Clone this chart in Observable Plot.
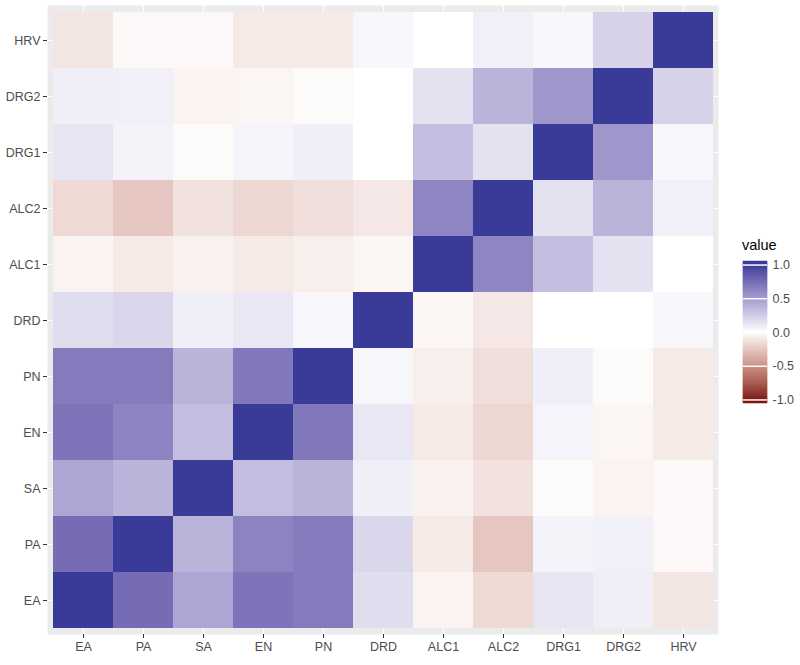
<!DOCTYPE html>
<html>
<head>
<meta charset="utf-8">
<script src="https://cdn.jsdelivr.net/npm/d3@7"></script>
<script src="https://cdn.jsdelivr.net/npm/@observablehq/plot@0.6"></script>
<style>
  html, body { margin: 0; padding: 0; background: #fff; }
  #wrap { position: relative; width: 800px; height: 665px; font-family: "Liberation Sans", Arial, sans-serif; }
  #legend { position: absolute; left: 735px; top: 236px; }
  #legtitle { position: absolute; left: 742px; top: 237px; font-size: 14.5px; color: #000; }
</style>
</head>
<body>
<div id="wrap">
  <div id="main"></div>
  <div id="legtitle">value</div>
  <div id="legend"></div>
</div>
<script>
const vars = ["EA","PA","SA","EN","PN","DRD","ALC1","ALC2","DRG1","DRG2","HRV"];
const rowEA   = [1, 0.72, 0.43, 0.68, 0.64, 0.16, -0.05, -0.16, 0.12, 0.08, -0.11];
const rowPA   = [0.72, 1, 0.36, 0.60, 0.64, 0.19, -0.09, -0.24, 0.06, 0.07, -0.03];
const rowSA   = [0.43, 0.36, 1, 0.31, 0.36, 0.08, -0.06, -0.12, -0.02, -0.05, -0.03];
const rowEN   = [0.68, 0.60, 0.31, 1, 0.66, 0.11, -0.09, -0.17, 0.05, -0.04, -0.09];
const rowPN   = [0.64, 0.64, 0.36, 0.66, 1, 0.04, -0.07, -0.14, 0.08, -0.02, -0.09];
const rowDRD  = [0.16, 0.19, 0.08, 0.11, 0.04, 1, -0.04, -0.10, 0.00, 0.00, 0.04];
const rowALC1 = [-0.05, -0.09, -0.06, -0.09, -0.07, -0.04, 1, 0.59, 0.31, 0.14, 0.00];
const rowALC2 = [-0.16, -0.24, -0.12, -0.17, -0.14, -0.10, 0.59, 1, 0.14, 0.36, 0.07];
const rowDRG1 = [0.12, 0.06, -0.02, 0.05, 0.08, 0.00, 0.31, 0.14, 1, 0.50, 0.04];
const rowDRG2 = [0.08, 0.07, -0.05, -0.04, -0.02, 0.00, 0.14, 0.36, 0.50, 1, 0.21];
const rowHRV  = [-0.11, -0.03, -0.03, -0.09, -0.09, 0.04, 0.00, 0.07, 0.04, 0.21, 1];
const legendTicks = [-1, -0.5, 0, 0.5, 1];

const rows = [rowEA,rowPA,rowSA,rowEN,rowPN,rowDRD,rowALC1,rowALC2,rowDRG1,rowDRG2,rowHRV];
const data = [];
rows.forEach((r, i) => r.forEach((v, j) => data.push({x: vars[j], y: vars[i], value: v})));

const colorOpts = {
  type: "linear",
  domain: [-1, 0, 1],
  range: ["#7d1616", "#ffffff", "#3a3a98"],
  interpolate: d3.interpolateLab,
  clamp: true
};

const font = "'Liberation Sans', Arial, sans-serif";

const main = Plot.plot({
  width: 800,
  height: 665,
  marginLeft: 47,
  marginRight: 82,
  marginTop: 5,
  marginBottom: 31,
  style: {fontFamily: font, fontSize: "12.5px", color: "#4d4d4d", background: "transparent"},
  x: {domain: vars, padding: 0, range: [53, 713], label: null},
  y: {domain: vars.slice().reverse(), padding: 0, range: [10, 630], label: null},
  color: colorOpts,
  marks: [
    Plot.frame({fill: "#ebebeb", stroke: null}),
    Plot.gridX({stroke: "white", strokeOpacity: 1, strokeWidth: 1.1}),
    Plot.gridY({stroke: "white", strokeOpacity: 1, strokeWidth: 1.1}),
    Plot.cell(data, {x: "x", y: "y", fill: "value", inset: 0}),
    Plot.axisX({tickSize: 4, tickPadding: 4, stroke: "#333", fill: "#4d4d4d", fontSize: 12.5}),
    Plot.axisY({tickSize: 4, tickPadding: 3, stroke: "#333", fill: "#4d4d4d", fontSize: 12.5})
  ]
});
document.getElementById("main").appendChild(main);

// vertical colorbar legend
const half = 0.5 * 2 / 19;
const lo = -1 - half, hi = 1 + half;
const nStops = 140;
const stops = d3.range(nStops).map(i => {
  const a = lo + (hi - lo) * i / nStops;
  const b = lo + (hi - lo) * (i + 1) / nStops;
  return {y1: a, y2: b, v: (a + b) / 2};
});
const leg = Plot.plot({
  width: 65,
  height: 180,
  marginLeft: 8,
  marginRight: 33,
  marginTop: 25,
  marginBottom: 13,
  style: {fontFamily: font, fontSize: "12.5px", color: "#4d4d4d", background: "transparent", overflow: "visible"},
  x: {domain: [0, 1], axis: null},
  y: {domain: [lo, hi], label: null},
  color: colorOpts,
  marks: [
    Plot.rect(stops, {x1: 0, x2: 1, y1: "y1", y2: "y2", fill: "v", stroke: "v", strokeWidth: 0.5}),
    Plot.tickY(legendTicks, {y: d => d, x1: 0, x2: 0.2, stroke: "white", strokeWidth: 1}),
    Plot.tickY(legendTicks, {y: d => d, x1: 0.8, x2: 1, stroke: "white", strokeWidth: 1}),
    Plot.axisY(legendTicks, {anchor: "right", tickSize: 0, tickPadding: 5, tickFormat: d => d.toFixed(1), fill: "#4d4d4d", fontSize: 12.5})
  ]
});
document.getElementById("legend").appendChild(leg);
</script>
</body>
</html>
